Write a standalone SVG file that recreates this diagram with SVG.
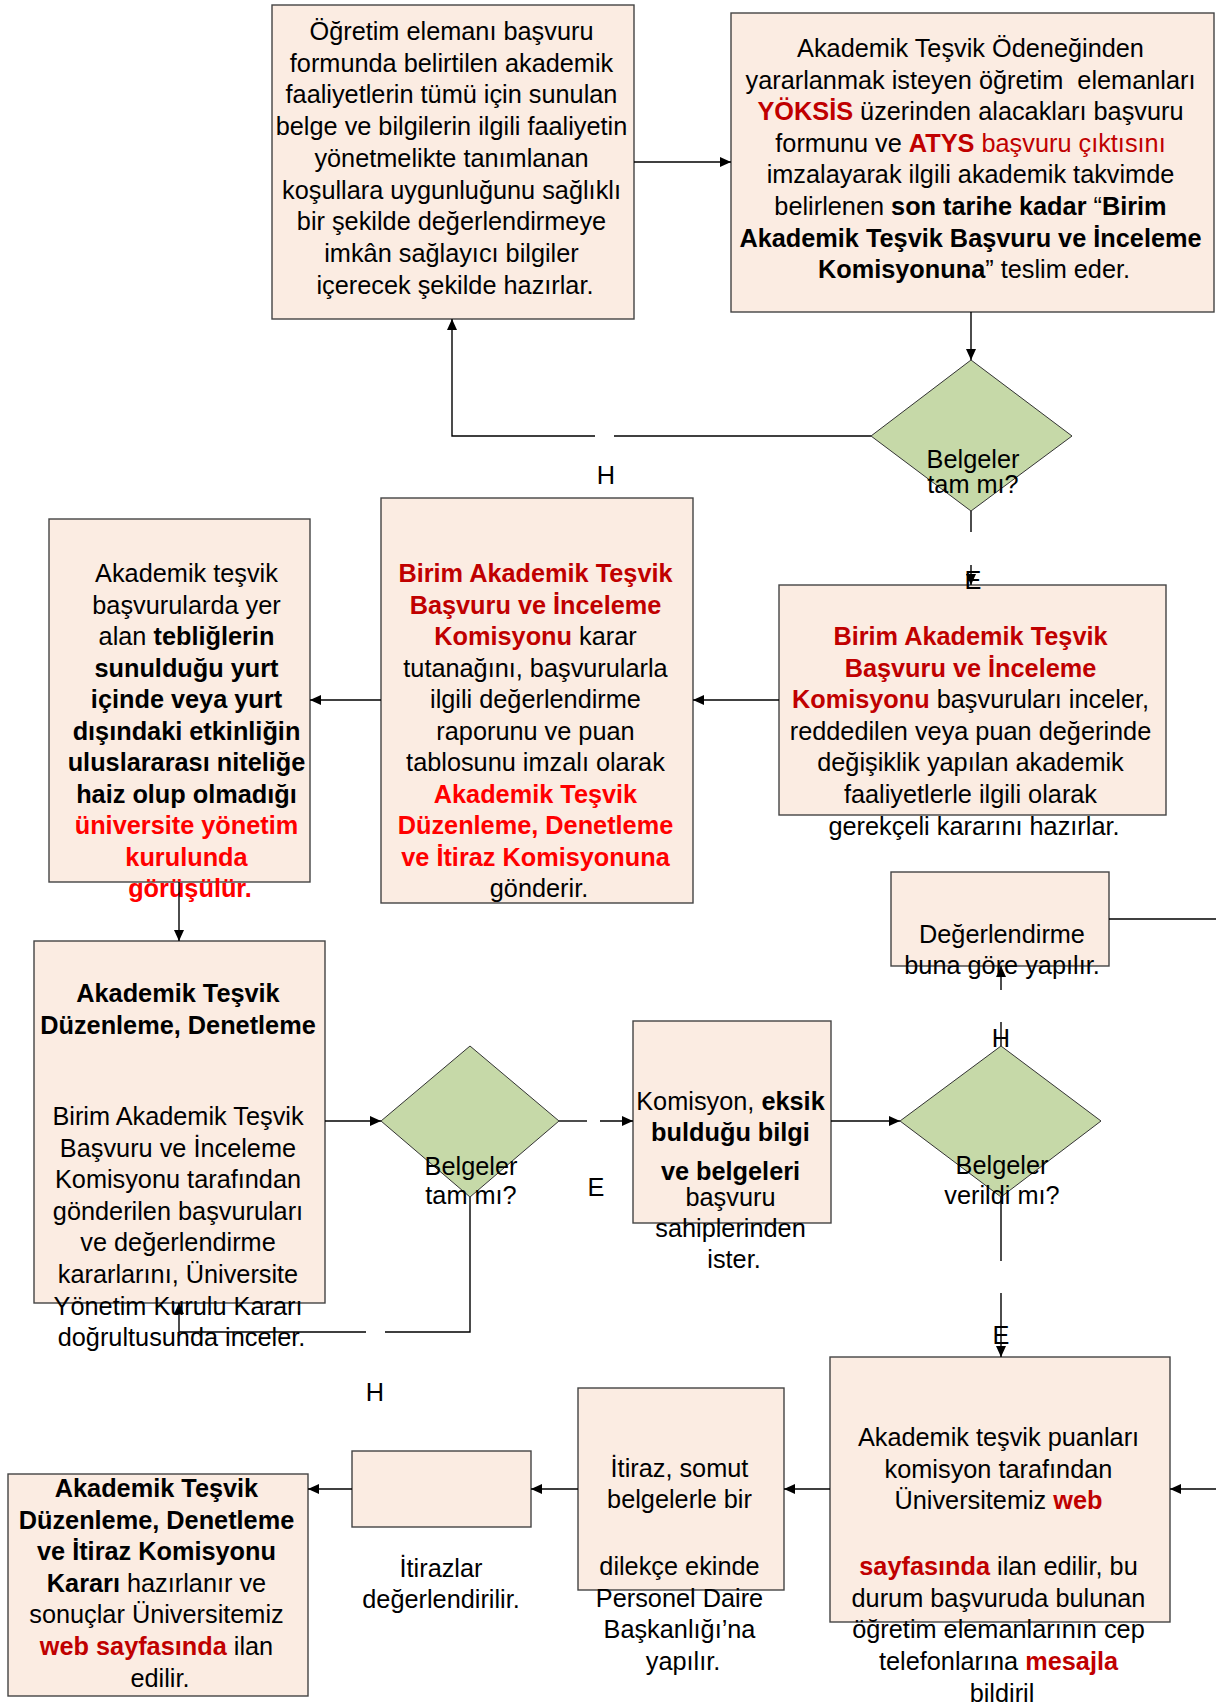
<svg xmlns="http://www.w3.org/2000/svg" width="1216" height="1706" viewBox="0 0 1216 1706">
<style>
.box{fill:#FBECE2;stroke:#444;stroke-width:1.4}
.dia{fill:#C6D9A8;stroke:#333;stroke-width:1}
.t{font-family:"Liberation Sans",Arial,sans-serif;font-size:25.3px;fill:#000;text-anchor:middle}
.b{font-weight:bold}
.dr{fill:#C00000}
.rd{fill:#FF0000}
.ln{fill:none;stroke:#000;stroke-width:1.4}
.ar{marker-end:url(#ah)}
</style>
<defs>
<marker id="ah" markerUnits="userSpaceOnUse" markerWidth="11" markerHeight="10" viewBox="0 0 11 10" refX="11" refY="5" orient="auto">
<path d="M0,0 L11,5 L0,10 z" fill="#000"/>
</marker>
</defs>
<rect width="1216" height="1706" fill="#fff"/>

<g id="n1">
<rect class="box" x="272" y="5" width="362" height="314"/>
<text class="t" transform="translate(2,0)">
<tspan x="453" y="40">Öğretim elemanı başvuru</tspan>
<tspan x="453" y="71.7">formunda belirtilen akademik</tspan>
<tspan x="453" y="103.4">faaliyetlerin tümü için sunulan</tspan>
<tspan x="453" y="135.1">belge ve bilgilerin ilgili faaliyetin</tspan>
<tspan x="453" y="166.8">yönetmelikte tanımlanan</tspan>
<tspan x="453" y="198.5">koşullara uygunluğunu sağlıklı</tspan>
<tspan x="453" y="230.2">bir şekilde değerlendirmeye</tspan>
<tspan x="453" y="261.9">imkân sağlayıcı bilgiler</tspan>
<tspan x="453" y="293.6">içerecek şekilde hazırlar.</tspan>
</text>
</g>

<g id="n2">
<rect class="box" x="731" y="13" width="483" height="299"/>
<text class="t" transform="translate(2,0)">
<tspan x="972" y="57">Akademik Teşvik Ödeneğinden</tspan>
<tspan x="972" y="88.6">yararlanmak isteyen öğretim&#160; elemanları</tspan>
<tspan x="972" y="120.2"><tspan class="b dr">YÖKSİS</tspan> üzerinden alacakları başvuru</tspan>
<tspan x="972" y="151.8">formunu ve <tspan class="b dr">ATYS</tspan><tspan class="dr"> başvuru çıktısını</tspan></tspan>
<tspan x="972" y="183.4">imzalayarak ilgili akademik takvimde</tspan>
<tspan x="972" y="215">belirlenen <tspan class="b">son tarihe kadar </tspan>“<tspan class="b">Birim</tspan></tspan>
<tspan x="972" y="246.6" class="b">Akademik Teşvik Başvuru ve İnceleme</tspan>
<tspan x="972" y="278.2"><tspan class="b">Komisyonuna</tspan>” teslim eder.</tspan>
</text>
</g>

<g id="d1">
<polygon class="dia" points="971,360 1072,436 971,511 871,436"/>
<text class="t"><tspan x="973" y="468">Belgeler</tspan><tspan x="973" y="493">tam mı?</tspan></text>
</g>

<g id="n3">
<rect class="box" x="779" y="585" width="387" height="230"/>
<text class="t" transform="translate(2,0)">
<tspan x="972" y="645" class="b dr">Birim Akademik Teşvik</tspan>
<tspan x="972" y="676.6" class="b dr">Başvuru ve İnceleme</tspan>
<tspan x="972" y="708.2"><tspan class="b dr">Komisyonu</tspan> başvuruları inceler,</tspan>
<tspan x="972" y="739.8">reddedilen veya puan değerinde</tspan>
<tspan x="972" y="771.4">değişiklik yapılan akademik</tspan>
<tspan x="972" y="803">faaliyetlerle ilgili olarak</tspan>
<tspan x="972" y="834.6">gerekçeli kararını hazırlar.</tspan>
</text>
</g>

<g id="n4">
<rect class="box" x="381" y="498" width="312" height="405"/>
<text class="t" transform="translate(2,0)">
<tspan x="537" y="582" class="b dr">Birim Akademik Teşvik</tspan>
<tspan x="537" y="613.5" class="b dr">Başvuru ve İnceleme</tspan>
<tspan x="537" y="645"><tspan class="b dr">Komisyonu</tspan> karar</tspan>
<tspan x="537" y="676.5">tutanağını, başvurularla</tspan>
<tspan x="537" y="708">ilgili değerlendirme</tspan>
<tspan x="537" y="739.5">raporunu ve puan</tspan>
<tspan x="537" y="771">tablosunu imzalı olarak</tspan>
<tspan x="537" y="802.5" class="b rd">Akademik Teşvik</tspan>
<tspan x="537" y="834" class="b rd">Düzenleme, Denetleme</tspan>
<tspan x="537" y="865.5" class="b rd">ve İtiraz Komisyonuna</tspan>
<tspan x="537" y="897">gönderir.</tspan>
</text>
</g>

<g id="n5">
<rect class="box" x="49" y="519" width="261" height="363"/>
<text class="t" transform="translate(2,0)">
<tspan x="188" y="582">Akademik teşvik</tspan>
<tspan x="188" y="613.5">başvurularda yer</tspan>
<tspan x="188" y="645">alan <tspan class="b">tebliğlerin</tspan></tspan>
<tspan x="188" y="676.5" class="b">sunulduğu yurt</tspan>
<tspan x="188" y="708" class="b">içinde veya yurt</tspan>
<tspan x="188" y="739.5" class="b">dışındaki etkinliğin</tspan>
<tspan x="188" y="771" class="b">uluslararası niteliğe</tspan>
<tspan x="188" y="802.5" class="b">haiz olup olmadığı</tspan>
<tspan x="188" y="834" class="b rd">üniversite yönetim</tspan>
<tspan x="188" y="865.5" class="b rd">kurulunda</tspan>
<tspan x="188" y="897" class="b rd">görüşülür.</tspan>
</text>
</g>

<g id="n6">
<rect class="box" x="34" y="941" width="291" height="362"/>
<text class="t" transform="translate(2,0)">
<tspan x="179.5" y="1002" class="b">Akademik Teşvik</tspan>
<tspan x="179.5" y="1033.5" class="b">Düzenleme, Denetleme</tspan>
<tspan x="179.5" y="1125">Birim Akademik Teşvik</tspan>
<tspan x="179.5" y="1156.6">Başvuru ve İnceleme</tspan>
<tspan x="179.5" y="1188.2">Komisyonu tarafından</tspan>
<tspan x="179.5" y="1219.8">gönderilen başvuruları</tspan>
<tspan x="179.5" y="1251.4">ve değerlendirme</tspan>
<tspan x="179.5" y="1283">kararlarını, Üniversite</tspan>
<tspan x="179.5" y="1314.6">Yönetim Kurulu Kararı</tspan>
<tspan x="179.5" y="1346.2">doğrultusunda inceler.</tspan>
</text>
</g>

<g id="d2">
<polygon class="dia" points="470,1046 559,1121 470,1197 381,1121"/>
<text class="t"><tspan x="471" y="1175">Belgeler</tspan><tspan x="471" y="1204">tam mı?</tspan></text>
</g>

<g id="n7">
<rect class="box" x="633" y="1021" width="198" height="202"/>
<text class="t" transform="translate(2,0)">
<tspan x="732" y="1110">Komisyon, <tspan class="b">eksik</tspan></tspan>
<tspan x="732" y="1141" class="b">bulduğu bilgi</tspan>
<tspan x="732" y="1180" class="b">ve belgeleri</tspan>
<tspan x="732" y="1206">başvuru</tspan>
<tspan x="732" y="1237">sahiplerinden</tspan>
<tspan x="732" y="1268">ister.</tspan>
</text>
</g>

<g id="d3">
<polygon class="dia" points="1001,1046 1101,1121 1001,1197 900,1121"/>
<text class="t"><tspan x="1002" y="1174">Belgeler</tspan><tspan x="1002" y="1204">verildi mı?</tspan></text>
</g>

<g id="n8">
<rect class="box" x="891" y="872" width="218" height="94"/>
<text class="t" transform="translate(2,0)"><tspan x="1000" y="943">Değerlendirme</tspan><tspan x="1000" y="974">buna göre yapılır.</tspan></text>
</g>

<g id="n9">
<rect class="box" x="830" y="1357" width="340" height="265"/>
<text class="t" transform="translate(2,0)">
<tspan x="1000" y="1446">Akademik teşvik puanları</tspan>
<tspan x="1000" y="1478">komisyon tarafından</tspan>
<tspan x="1000" y="1509">Üniversitemiz <tspan class="b dr">web</tspan></tspan>
<tspan x="1000" y="1575"><tspan class="b dr">sayfasında</tspan> ilan edilir, bu</tspan>
<tspan x="1000" y="1607">durum başvuruda bulunan</tspan>
<tspan x="1000" y="1638">öğretim elemanlarının cep</tspan>
<tspan x="1000" y="1670">telefonlarına <tspan class="b dr">mesajla</tspan></tspan>
<tspan x="1000" y="1702">bildiril</tspan>
</text>
</g>

<g id="n10">
<rect class="box" x="578" y="1388" width="206" height="202"/>
<text class="t" transform="translate(2,0)">
<tspan x="681" y="1477">İtiraz, somut</tspan>
<tspan x="681" y="1508">belgelerle bir</tspan>
<tspan x="681" y="1575">dilekçe ekinde</tspan>
<tspan x="681" y="1607">Personel Daire</tspan>
<tspan x="681" y="1638">Başkanlığı’na</tspan>
<tspan x="681" y="1670">yapılır.</tspan>
</text>
</g>

<g id="n11">
<rect class="box" x="352" y="1451" width="179" height="76"/>
<text class="t"><tspan x="441" y="1577">İtirazlar</tspan><tspan x="441" y="1608">değerlendirilir.</tspan></text>
</g>

<g id="n12">
<rect class="box" x="8" y="1474" width="300" height="222"/>
<text class="t" transform="translate(2,0)">
<tspan x="158" y="1497" class="b">Akademik Teşvik</tspan>
<tspan x="158" y="1528.6" class="b">Düzenleme, Denetleme</tspan>
<tspan x="158" y="1560.2" class="b">ve İtiraz Komisyonu</tspan>
<tspan x="158" y="1591.8"><tspan class="b">Kararı</tspan> hazırlanır ve</tspan>
<tspan x="158" y="1623.4">sonuçlar Üniversitemiz</tspan>
<tspan x="158" y="1655"><tspan class="b dr">web sayfasında</tspan> ilan</tspan>
<tspan x="158" y="1686.6">edilir.</tspan>
</text>
</g>

<g id="connectors">
<path class="ln ar" d="M634,162 H731"/>
<path class="ln ar" d="M971,312 V360"/>
<path class="ln" d="M871,436 H614"/>
<path class="ln ar" d="M595,436 H452 V319"/>
<path class="ln" d="M971,511 V532"/>
<path class="ln ar" d="M971,565 V585"/>
<path class="ln ar" d="M779,700 H693"/>
<path class="ln ar" d="M381,700 H310"/>
<path class="ln ar" d="M179,882 V941"/>
<path class="ln ar" d="M325,1121 H381"/>
<path class="ln" d="M559,1121 H587"/>
<path class="ln ar" d="M600,1121 H633"/>
<path class="ln" d="M470,1197 V1332 H385"/>
<path class="ln ar" d="M366,1332 H179 V1303"/>
<path class="ln ar" d="M831,1121 H900"/>
<path class="ln" d="M1001,1046 V1022"/>
<path class="ln ar" d="M1001,990 V966"/>
<path class="ln" d="M1001,1197 V1261"/>
<path class="ln ar" d="M1001,1293 V1357"/>
<path class="ln" d="M1109,919 H1216"/>
<path class="ln ar" d="M1216,1489 H1170"/>
<path class="ln ar" d="M830,1489 H784"/>
<path class="ln ar" d="M578,1489 H531"/>
<path class="ln ar" d="M352,1489 H308"/>
<text class="t" x="606" y="484">H</text>
<text class="t" x="973" y="589">E</text>
<text class="t" x="596" y="1196">E</text>
<text class="t" x="375" y="1401">H</text>
<text class="t" x="1001" y="1047">H</text>
<text class="t" x="1001" y="1344">E</text>
</g>
</svg>
